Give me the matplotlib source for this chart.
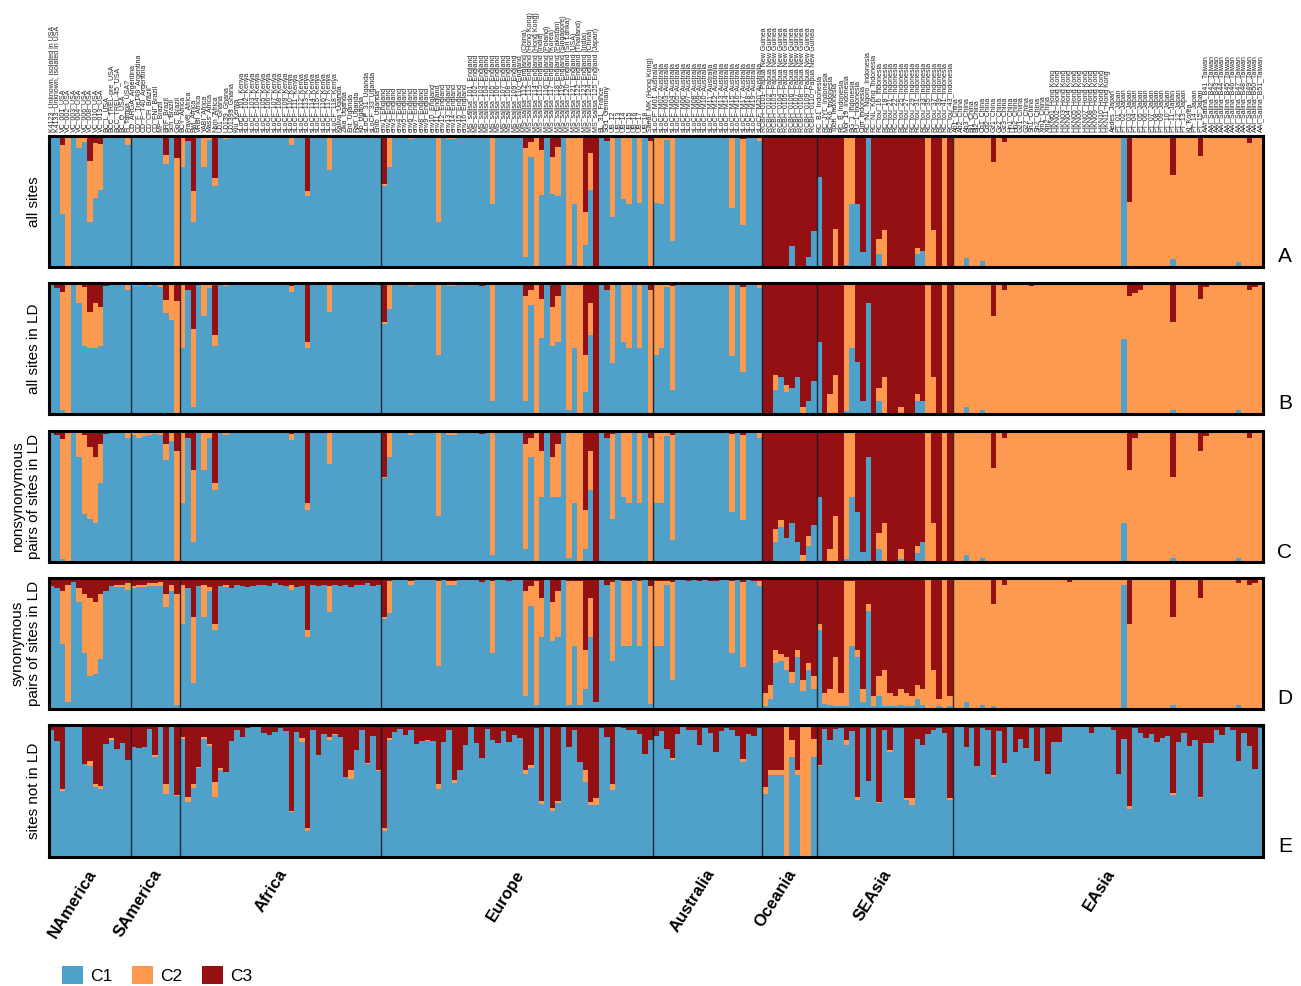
import matplotlib
matplotlib.use('Agg')
import matplotlib.pyplot as plt
import matplotlib.transforms as mtransforms
from matplotlib.patches import Patch
import numpy as np

plt.rcParams['font.family'] = ['Liberation Sans', 'DejaVu Sans']

# ---------------- data ----------------
regions = ["NAmerica", "SAmerica", "Africa", "Europe", "Australia", "Oceania", "SEAsia", "EAsia"]
region_sizes = [15, 9, 37, 50, 20, 10, 25, 57]

labels_namerica = ["K4123_Unknown, isolated in USA", "K4133_Unknown, isolated in USA", "VC_001_USA", "VC_002_USA",
                   "VC_003_USA", "VC_004_USA", "VC_006_USA", "VC_008_USA", "VC_010_USA", "VC_013_USA", "BC_L_USA",
                   "BCC_TREL-pre_USA", "BCC_TREL-45_USA", "BC_Q_USA", "Fl_Tampa_USA?"]
labels_samerica = ["CD_ARGA_Argentina", "CD_F_Tre149_Argentina", "CD_F_T40_Argentina", "CD_CH_Brazil", "CD_FNI_Brazil",
                   "MP_Brazil", "BRF_Brazil", "Sch_Brazil", "GoC_Brazil"]
labels_africa = ["BCY_Africa", "Fravel_Africa", "Bwl_Africa", "VRBI_Africa", "YABI_Africa", "Mass_Africa", "Nsm_Africa",
                 "U01_Ghana", "U0139_Ghana", "U01393_Ghana", "Kiu_Kenya", "sLoCF_101_Kenya", "sLoCF_102_Kenya",
                 "sLoCF_103_Kenya", "sLoCF_104_Kenya", "sLoCF_105_Kenya", "sLoCF_106_Kenya", "sLoCF_107_Kenya",
                 "sLoCF_108_Kenya", "sLoCF_109_Kenya", "sLoCF_110_Kenya", "sLoCF_111_Kenya", "sLoCF_112_Kenya",
                 "sLoCF_113_Kenya", "sLoCF_114_Kenya", "sLoCF_115_Kenya", "sLoCF_116_Kenya", "sLoCF_117_Kenya",
                 "sLoCF_118_Kenya", "Kaliva_Uganda", "Zika_Uganda", "Ent_Uganda", "Rab_Uganda", "Kb_Uganda",
                 "sLoCF_31_Uganda", "sLoCF_33_Uganda", "Entb_Uganda"]
labels_europe = ["env1_England", "env2_England", "env3_England", "env4_England", "env5_England", "env6_England",
                 "env7_England", "env8_England", "env9_England", "env10_England", "env11_England", "env12_England",
                 "env13_England", "env14_England", "env15_England", "env16_England",
                 "MS_salisa_101_England", "MS_salisa_102_England", "MS_salisa_103_England", "MS_salisa_104_England",
                 "MS_salisa_105_England", "MS_salisa_106_England", "MS_salisa_107_England", "MS_salisa_108_England",
                 "MS_salisa_109_England", "MS_salisa_110_England",
                 "MS_salisa_112_England (China)", "MS_salisa_113_England (Hong Kong)",
                 "MS_salisa_114_England (Hong Kong)", "MS_salisa_115_England (India)",
                 "MS_salisa_116_England (Poland)", "MS_salisa_117_England (Korea)",
                 "MS_salisa_118_England (Pakistan)", "MS_salisa_119_England (Singapore)",
                 "MS_salisa_120_England (Sri Lanka)", "MS_salisa_121_England (USA)",
                 "MS_salisa_122_England (Thailand)", "MS_salisa_123_England (India)",
                 "MS_salisa_124_England (China)", "MS_salisa_125_England (Japan)",
                 "BL_31_France", "SG1_Germany", "UB_12", "UB_13", "UB_14", "UB_15", "UB_16", "UB_17", "UB_18",
                 "Sanal_MK (Hong Kong)"]
labels_australia = ["sLoCF_M01_Australia", "sLoCF_M02_Australia", "sLoCF_M03_Australia", "sLoCF_M04_Australia",
                    "sLoCF_M05_Australia", "sLoCF_M06_Australia", "sLoCF_M07_Australia", "sLoCF_M08_Australia",
                    "sLoCF_M09_Australia", "sLoCF_M10_Australia", "sLoCF_M11_Australia", "sLoCF_M12_Australia",
                    "sLoCF_M13_Australia", "sLoCF_M14_Australia", "sLoCF_M15_Australia", "sLoCF_M16_Australia",
                    "sLoCF_M17_Australia", "sLoCF_M18_Australia", "sLoCF_M19_Australia", "sLoCF_M20_Australia"]
labels_oceania = ["RCBH_0101_Papua New Guinea", "RCBH_0102_Papua New Guinea", "RCBH_0103_Papua New Guinea",
                  "RCBH_0104_Papua New Guinea", "RCBH_0105_Papua New Guinea", "RCBH_0106_Papua New Guinea",
                  "RCBH_0107_Papua New Guinea", "RCBH_0108_Papua New Guinea", "RCBH_0109_Papua New Guinea",
                  "RCBH_0110_Papua New Guinea"]
labels_seasia = ["RC_B1_Indonesia", "RC_JYL_Indonesia", "RC_K6_Indonesia", "Tpch_Indonesia", "RC_B_Indonesia",
                 "Mol_19_Indonesia", "BG_1_Indonesia", "PU_1_Indonesia", "Cim_Indonesia", "RC_NL_Ngoro_Indonesia",
                 "RC_NL_Kpng_Indonesia", "RC_tou_16_Indonesia", "RC_tou_18_Indonesia", "RC_tou_21_Indonesia",
                 "RC_tou_22_Indonesia", "RC_tou_25_Indonesia", "RC_tou_27_Indonesia", "RC_tou_29_Indonesia",
                 "RC_tou_31_Indonesia", "RC_tou_33_Indonesia", "RC_tou_35_Indonesia", "RC_tou_37_Indonesia",
                 "RC_tou_39_Indonesia", "RC_tou_41_Indonesia", "RC_tou_43_Indonesia"]
labels_easia = ["Ab1_China", "Ab2_China", "Ab3_China", "Bj1_China", "Bj2_China", "Cq1_China", "Cq2_China",
                "Gz1_China", "Gz2_China", "Gz3_China", "Hn1_China", "Hn2_China", "G21_China", "G22_China",
                "Sh1_China", "Sh2_China", "Xm1_China", "Xm2_China",
                "HKN01_Hong Kong", "HKN02_Hong Kong", "HKN03_Hong Kong", "HKN04_Hong Kong", "HKN05_Hong Kong",
                "HKN06_Hong Kong", "HKN07_Hong Kong", "HKN08_Hong Kong", "HKN09_Hong Kong", "HKN10_Hong Kong",
                "HKN11_Hong Kong",
                "Aedes_Japan", "PT_01_Japan", "PT_02_Japan", "PT_03_Japan", "PT_04_Japan", "PT_05_Japan",
                "PT_06_Japan", "PT_07_Japan", "PT_08_Japan", "PT_09_Japan", "PT_10_Japan", "PT_11_Japan",
                "PT_12_Japan", "PT_13_Japan", "Kt_Korea", "PT_14_Japan", "PT_15_Japan",
                "AAI_Salina_B41_Taiwan", "AAI_Salina_B42_Taiwan", "AAI_Salina_B43_Taiwan", "AAI_Salina_B44_Taiwan",
                "AAI_Salina_B45_Taiwan", "AAI_Salina_B46_Taiwan", "AAI_Salina_B47_Taiwan", "AAI_Salina_B48_Taiwan",
                "AAI_Salina_B49_Taiwan", "AAI_Salina_B50_Taiwan", "AAI_Salina_B51_Taiwan"]

# Panel A: all sites  (C2 = orange share, C3 = red share, C1 = rest)
A_C3 = [0,0,.067,0,0,0,0,.19,.054,.06,0,0,0,0,0,
        0,0,0,0,0,0,.147,0,.17,
        0,.04,.42,0,0,0,.32,0,0,0,0,0,0,0,0,0,0,0,0,0,.01,0,0,.42,0,0,0,0,0,0,0,0,0,0,0,0,0,
        .37,0,0,0,0,0,0,0,0,0,0,0,0,0,0,0,0,0,.015,0,0,0,0,0,0,0,.09,.046,0,.11,0,.16,.085,0,0,0,0,.58,.13,1,0,.04,.008,0,0,0,0,0,0,.04,
        0,0,0,.015,0,0,0,0,0,0,0,0,0,0,.008,0,.023,0,0,0,
        1,1,1,1,1,.84,1,1,.925,.725,
        .316,1,1,.71,1,0,0,.52,.887,0,1,.787,.717,1,1,1,1,1,.856,.88,0,.717,1,0,1,
        0,0,0,0,0,0,0,.2,0,.046, 0,0,0,0,0,0,0,0,0,0, 0,0,0,0,0,0,0,0,0,0,
        0,0,.5,0,.008,0,0,0,0,0, .3,0,0,0,0,.154,0,0,0,0, 0,0,0,0,.054,0,0]
A_C2 = [0,0,.53,1,0,.09,.046,.47,.42,.355,0,0,0,0,.07,
        0,0,0,0,0,.015,.07,0,.83,
        .24,0,.24,0,.24,.03,.06,0,.023,0,0,0,0,0,0,0,0,0,0,0,.055,0,0,.04,0,0,0,.26,0,0,0,0,0,0,0,0,0,
        .008,.24,0,0,0,.023,0,0,0,0,.66,0,.023,.023,0,0,0,0,0,0,.52,0,0,0,0,0,.83,.115,1,.34,0,.285,.37,0,.985,.52,1,.255,.28,0,0,0,.61,0,.48,.52,0,.51,0,.96,
        .51,.52,.03,.785,0,0,0,0,0,0,0,0,0,0,.54,0,.655,0,0,.04,
        0,0,0,0,0,0,0,0,0,0,
        0,0,0,.29,0,.985,.52,0,0,0,0,.115,.283,0,0,0,0,0,.046,0,1,.283,0,1,0,
        1,1,.933,1,1,.956,1,.8,1,.954, 1,1,1,1,1,1,1,1,1,1, 1,1,1,1,1,1,1,1,1,1,
        1,0,.5,1,.992,1,1,1,1,1, .64,1,1,1,1,.846,1,1,1,1, 1,1,.964,1,.946,1,1]

# Panel B: all sites in LD
B_C3 = [0,.04,.07,0,0,0,.03,.22,.15,.18,.02,0,0,0,0,
        0,0,0,0,0,0,.13,0,.14,
        0,.05,.35,0,0,0,.4,0,0,0,0,0,0,0,0,0,0,0,0,0,.02,0,0,.45,0,0,0,0,0,0,0,0,0,0,0,0,0,
        .3,0,0,0,0,0,0,0,0,0,0,0,0,0,0,0,0,0,.02,0,0,0,0,0,0,0,.1,.05,0,.12,0,.18,.1,0,0,0,0,.55,.15,1,0,.05,.01,0,0,0,0,0,0,.05,
        0,0,0,.02,0,0,0,0,0,0,0,0,0,0,.01,0,.03,0,0,0,
        1,1,.7,.72,.78,.8,.72,.95,.9,.75,
        .45,1,.85,.7,1,0,0,.6,.9,.15,1,.8,.72,1,1,.95,1,1,.85,.9,0,.72,1,0,1,
        0,0,0,0,0,0,0,.25,0,.05, 0,0,0,0,.02,0,0,0,0,0, 0,0,0,0,0,0,0,0,0,0,
        0,0,.1,.08,.05,0,0,0,0,0, .3,0,0,0,0,.12,.03,0,0,0, 0,0,0,0,.05,.03,0]
B_C2 = [0,0,.9,1,0,.15,.45,.28,.35,.3,0,0,0,0,.05,
        .02,.02,.01,.02,.01,.03,.1,.28,.86,
        .5,0,.6,0,.25,.04,.08,0,.02,0,0,0,0,0,0,0,0,0,0,0,.05,0,0,.05,0,0,0,.22,0,0,0,0,0,0,0,0,0,
        .01,.2,0,0,0,.02,0,0,0,0,.55,0,.02,.02,0,0,0,0,0,0,.9,0,0,0,0,0,.8,.12,1,.3,0,.3,.35,0,.97,.5,1,.28,.25,0,0,0,.6,0,.45,.5,0,.5,0,.95,
        .55,.5,.03,.8,0,0,0,0,0,0,0,0,0,0,.55,0,.65,0,0,.04,
        0,0,.12,0,.05,0,0,.05,0,0,
        0,0,.15,.3,0,.98,.5,0,0,0,0,.1,.28,0,0,.05,0,0,.05,0,1,.28,0,1,0,
        1,1,.95,1,1,.97,1,.75,1,.95, 1,1,1,1,.98,1,1,1,1,1, 1,1,1,1,1,1,1,1,1,1,
        1,.43,.9,.92,.95,1,1,1,1,1, .67,1,1,1,1,.88,.97,1,1,1, 1,1,.97,1,.95,.97,1]

# Panel C: nonsynonymous pairs of sites in LD
C_C3 = [0,.03,.06,0,0,0,.03,.12,.2,.1,.02,0,0,0,0,
        0,0,0,0,0,0,.1,0,.15,
        0,.05,.3,0,0,0,.4,0,0,0,0,0,0,0,0,0,0,0,0,0,.02,0,0,.55,0,0,0,0,0,0,0,0,0,0,0,0,0,
        .35,0,0,0,0,0,0,0,0,0,0,0,0,0,0,0,0,0,.02,0,0,0,0,0,0,0,.1,.05,0,.15,0,.2,.1,0,0,0,0,.6,.15,1,0,.05,.02,0,0,0,0,0,0,.05,
        0,0,0,.03,0,0,0,0,0,0,0,0,0,0,.02,0,.03,0,0,0,
        1,1,.75,.68,.82,.7,.85,.95,.8,.72,
        .5,1,.9,.65,1,0,0,.62,.92,.2,1,.78,.7,1,1,.9,1,1,.88,.85,0,.7,1,0,1,
        0,0,0,0,0,0,0,.28,0,.05, 0,0,0,0,0,0,0,0,0,0, 0,0,0,0,0,0,0,0,0,0,
        0,0,.3,.05,0,0,0,0,0,0, .35,0,0,0,0,.15,.04,0,0,0, 0,0,0,0,.05,0,0]
C_C2 = [0,0,.92,1,0,.2,.6,.55,.5,.3,0,0,0,0,.05,
        .03,.05,.04,.03,.02,.03,.12,.08,.85,
        .55,0,.55,0,.3,.05,.05,0,.03,0,0,0,0,0,0,0,0,0,0,0,.05,0,0,.05,0,0,0,.25,0,0,0,0,0,0,0,0,0,
        .01,.2,0,0,0,.03,0,0,0,0,.65,0,.03,.03,0,0,0,0,0,0,.95,0,0,0,0,0,.8,.15,1,.35,0,.3,.4,0,.97,.55,1,.3,.3,0,0,0,.65,0,.5,.55,0,.55,0,.95,
        .55,.55,.04,.8,0,0,0,0,0,0,0,0,0,0,.6,0,.65,0,0,.05,
        0,0,.1,.05,0,0,0,.05,.08,0,
        0,0,.1,.35,0,.98,.5,0,0,0,0,.12,.3,0,0,.08,0,0,.05,0,1,.3,0,1,0,
        1,1,.95,1,1,.97,1,.72,1,.95, 1,1,1,1,1,1,1,1,1,1, 1,1,1,1,1,1,1,1,1,1,
        1,.7,.7,.95,1,1,1,1,1,1, .62,1,1,1,1,.85,.96,1,1,1, 1,1,.97,1,.95,1,1]

# Panel D: synonymous pairs of sites in LD
D_C3 = [.06,.08,.1,.05,.03,.08,.12,.15,.18,.12,.1,.06,.05,.05,.04,
        .06,.05,.05,.04,.04,.03,.12,.05,.12,
        .05,.08,.3,.06,.05,.07,.35,.06,.05,.08,.05,.06,.07,.06,.05,.05,.06,.04,.05,.06,.05,.07,.06,.4,.05,.06,.05,.06,.05,.06,.05,.07,.05,.05,.04,.06,.05,
        .3,.02,.01,0,.01,.02,.01,.01,.01,.01,.02,.01,.02,.02,.01,.01,0,.01,.03,.01,.02,.01,.01,.02,.01,.01,.1,.06,.02,.15,.01,.18,.1,.01,.02,.02,.02,.55,.15,.95,.01,.05,.03,.01,.02,.02,.01,.02,.01,.06,
        .02,.02,.02,.03,.01,.01,.02,.01,.02,.01,.02,.02,.01,.01,.02,.01,.03,.01,.02,.02,
        .88,.82,.55,.58,.6,.72,.55,.78,.65,.75,
        .35,.88,.85,.6,.88,.02,.02,.55,.85,.2,.9,.75,.7,.88,.9,.85,.88,.9,.82,.85,0,.7,.92,0,.9,
        0,0,0,0,0,0,0,.2,0,.05, 0,0,0,0,0,0,0,0,0,0, 0,.03,0,0,0,0,0,0,0,0,
        0,0,.35,0,0,0,0,0,0,0, .3,0,0,0,0,.15,0,0,0,0, 0,0,.04,0,.05,.04,0]
D_C2 = [0,0,.4,.9,0,.1,.45,.6,.55,.5,0,0,.02,.02,.05,
        .02,.02,.02,.02,.02,.03,.1,.05,.85,
        .3,0,.5,0,.25,.03,.05,0,.02,0,0,0,0,0,0,0,0,0,0,0,.04,0,0,.05,0,0,0,.2,0,0,0,0,0,0,0,0,0,
        .01,.25,0,0,0,.03,0,0,0,0,.65,0,.03,.03,0,0,0,0,0,0,.55,0,0,0,0,0,.8,.15,.95,.3,0,.3,.35,0,.95,.5,.95,.3,.3,0,0,0,.6,0,.5,.5,0,.5,0,.9,
        .5,.5,.03,.75,0,0,0,0,0,0,0,0,0,0,.55,0,.65,0,0,.04,
        .1,.1,.1,.05,.1,.08,.05,.08,.05,.1,
        .05,.08,.12,.38,.1,.96,.5,.05,.1,.05,.08,.15,.28,.1,.08,.12,.1,.08,.1,.12,1,.3,.06,1,.08,
        1,1,.95,1,1,.97,1,.78,1,.95, 1,1,1,1,1,1,1,1,1,1, 1,.97,1,1,1,1,1,1,1,1,
        1,.05,.65,1,1,1,1,1,1,1, .67,1,1,1,1,.85,1,1,1,1, 1,1,.93,1,.95,.96,1]

# Panel E: sites not in LD
E_C3 = [.04,.123,.486,0,0,0,.293,.27,.447,.463,.147,.1,.185,.139,.262,
        .17,.177,.17,.03,.224,0,.447,0,.532,
        .093,.548,.447,.316,.093,.147,.432,.324,.355,.123,.04,.093,.023,0,0,.06,.077,.054,.023,.046,.648,.05,.1,.78,.04,.224,.07,.093,.07,.093,.393,.34,.193,.04,.285,.085,.34,
        .78,.1,.054,.03,.077,.04,.147,.123,.116,.123,.447,.131,.04,.416,.34,.154,0,.139,.247,.03,.116,.139,.046,.131,.077,.1,.34,.3,.023,.578,0,.632,.578,0,.17,.04,.278,.34,.586,.555,.023,.093,.447,0,.023,.04,.04,.07,.216,.116,
        .085,.046,.185,.247,.07,0,.04,.04,.154,.02,.062,.208,.046,.023,.04,.085,.254,.07,.085,.023,
        .47,.34,.34,.34,0,.116,.34,0,0,.108,
        .3,.03,.116,.03,.023,.116,.046,.548,.023,.424,.023,.586,.04,.193,.02,.023,.555,.555,.108,.154,.07,.04,.023,.062,.555,
        0,0,.17,.023,.308,.023,.04,.378,.046,.285, 0,.208,.108,.177,.023,.27,.023,.37,.131,.131, 0,0,0,0,0,.062,0,0,0,.04,
        .37,.108,.61,.023,.062,.1,.07,.131,.1,.085, .517,.131,.062,.162,.116,.548,.139,.139,.04,.077, 0,.04,.27,.062,.162,.332,.023]
E_C2 = [0,0,.015,0,0,0,0,.04,.023,.023,0,.015,0,0,0,
        0,0,0,0,.015,0,.077,.008,.008,
        .015,.039,.031,.008,.015,.015,.116,.015,0,0,0,0,0,0,0,0,0,0,0,0,.008,0,.03,.023,0,0,0,.023,.008,0,0,.07,0,0,.008,0,.008,
        .023,.015,0,0,0,0,0,0,.008,0,.039,0,0,.023,0,0,0,0,0,0,0,0,0,0,0,0,.031,.023,0,.023,0,.023,.015,0,0,0,0,.093,.023,.054,0,0,.046,0,0,0,0,0,0,0,
        0,0,0,.015,0,0,0,0,0,0,0,0,0,0,0,0,.023,0,0,0,
        .054,.039,.039,.039,1,.123,.039,1,1,.131,
        .008,0,0,0,0,.039,0,.023,0,0,0,.008,0,.008,0,0,.015,.05,0,0,0,0,0,0,.015,
        0,0,0,0,0,0,0,.015,0,0, 0,0,0,0,0,0,0,0,0,0, 0,0,0,0,0,0,0,0,0,0,
        0,0,.023,0,0,0,0,0,0,0, .015,0,0,0,0,.008,0,0,0,0, 0,0,0,0,0,0,0]

panel_names = ["all sites", "all sites in LD", "nonsynonymous\npairs of sites in LD",
               "synonymous\npairs of sites in LD", "sites not in LD"]
panel_letters = ["A", "B", "C", "D", "E"]
component_names = ["C1", "C2", "C3"]

# ---------------- style / layout ----------------
BLUE, ORANGE, RED = "#4FA1CA", "#FE9A4F", "#951013"
W, H = 1301, 986
panel_px = [(136, 267), (283, 414), (431, 562), (578, 709), (725, 857)]
LEFT_PX, RIGHT_PX = 49, 1263

sample_labels = (labels_namerica + labels_samerica + labels_africa + labels_europe +
                 labels_australia + labels_oceania + labels_seasia + labels_easia)
n = sum(region_sizes)
bounds = np.cumsum([0] + region_sizes)

fig = plt.figure(figsize=(W / 100, H / 100), dpi=100)

panel_data = [(A_C2, A_C3), (B_C2, B_C3), (C_C2, C_C3), (D_C2, D_C3), (E_C2, E_C3)]
axes = []
for k, ((c2l, c3l), (ptop, pbot)) in enumerate(zip(panel_data, panel_px)):
    assert len(c2l) == n and len(c3l) == n, (k, len(c2l), len(c3l))
    ax = fig.add_axes([LEFT_PX / W, 1 - pbot / H, (RIGHT_PX - LEFT_PX) / W, (pbot - ptop) / H])
    c2 = np.array(c2l, float)
    c3 = np.array(c3l, float)
    c1 = np.clip(1 - c2 - c3, 0, 1)
    x = np.arange(n)
    kw = dict(width=1.0, align='edge', linewidth=0, antialiased=False)
    ax.bar(x, c1, color=BLUE, **kw)
    ax.bar(x, c2, bottom=c1, color=ORANGE, **kw)
    ax.bar(x, c3, bottom=c1 + c2, color=RED, **kw)
    for b in bounds[1:-1]:
        ax.axvline(b, color="#101820", lw=1.0, alpha=0.85)
    ax.set_xlim(0, n)
    ax.set_ylim(0, 1)
    ax.set_yticks([])
    for s in ax.spines.values():
        s.set_linewidth(2.2)
        s.set_color("black")
    ax.set_ylabel(panel_names[k], fontsize=11, labelpad=6, linespacing=1.15)
    ax.text(1 + 22 / (RIGHT_PX - LEFT_PX), 10 / (pbot - ptop), panel_letters[k], transform=ax.transAxes,
            fontsize=15, ha='center', va='center')
    if k == 0:
        ax.set_xticks(x + 0.5)
        ax.set_xticklabels(sample_labels, rotation=90, fontsize=5.0, color="#222222")
        ax.tick_params(axis='x', top=True, labeltop=True, bottom=False, labelbottom=False, length=0, pad=3)
    else:
        ax.set_xticks([])
    axes.append(ax)

# region labels under panel E
axE = axes[-1]
trans = mtransforms.blended_transform_factory(axE.transData, axE.transAxes)
centers = (bounds[:-1] + bounds[1:]) / 2
for name, c in zip(regions, centers):
    axE.text(c + 0.6, -14 / 132, name, transform=trans, rotation=58, ha='right', va='center',
             rotation_mode='anchor', fontsize=12, fontweight='bold')

# legend
handles = [Patch(facecolor=col, edgecolor='none', label=lab) for col, lab in zip([BLUE, ORANGE, RED], component_names)]
fig.legend(handles=handles, loc='lower left', bbox_to_anchor=(60 / W, 0.0), ncol=3, frameon=False,
           fontsize=12.5, handlelength=1.25, handleheight=1.2, handletextpad=0.4, columnspacing=1.1,
           borderpad=0.1, borderaxespad=0.0)

fig.savefig("out.png", dpi=100)
